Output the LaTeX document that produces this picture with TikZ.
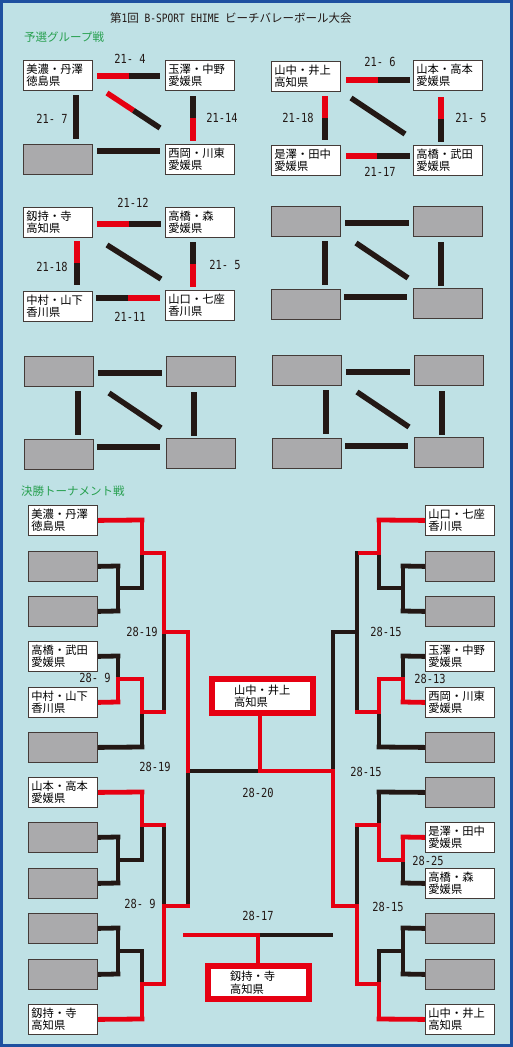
\documentclass[tikz,border=0pt]{standalone}
\usepackage{fontspec}
\newfontfamily\jp{Noto Sans CJK JP}
\newfontfamily\numfont[FakeStretch=0.83]{DejaVu Sans Mono}
\usetikzlibrary{calc}
\definecolor{rc}{RGB}{230,0,18}
\definecolor{kc}{RGB}{35,24,21}
\definecolor{gc}{RGB}{170,170,172}
\definecolor{bgc}{RGB}{191,225,229}
\definecolor{bdc}{RGB}{30,80,160}
\definecolor{grn}{RGB}{40,160,80}
\pgfdeclarelayer{bgzero}\pgfdeclarelayer{lines}\pgfsetlayers{bgzero,lines,main}
\begin{document}
\begin{tikzpicture}[x=1pt,y=-1pt,
 team/.style={draw=kc!85, line width=0.8pt, fill=white, minimum width=69pt, minimum height=30pt, anchor=north west, inner sep=0pt, text width=63pt, align=left, font=\jp\fontsize{11.3}{12.5}\selectfont},
 nobody/.style={team, fill=gc},
 gl/.style={line width=5.5pt},
 bl/.style={line width=4.8pt, line cap=rect},
 redln/.style={draw=rc},
 blkln/.style={draw=kc},
 sc/.style={font=\numfont\fontsize{12.5}{12.5}\selectfont, inner sep=0pt, text=kc},
 hdr/.style={font=\jp\fontsize{11.5}{12}\selectfont, text=grn, inner sep=0pt, anchor=west},
 bigbox/.style={draw=rc, line width=5.5pt, fill=white, minimum width=101pt, inner sep=0pt, text width=57pt, align=left, font=\jp\fontsize{11.3}{12.5}\selectfont}
]
\begin{pgfonlayer}{bgzero}
\fill[bgc] (0,0) rectangle (513,1047);
\draw[bdc, line width=3pt] (1.5,1.5) rectangle (511.5,1045.5);
\end{pgfonlayer}
\useasboundingbox (0,0) rectangle (513,1047);

% title and headers
\node[font=\jp\fontsize{11.5}{12}\selectfont, text=kc, inner sep=0pt, anchor=west] (title) at (110,18)
  {第{\numfont 1}回{\numfont\ B-SPORT EHIME\ }ビーチバレーボール大会};
\node[hdr] (h1) at (24,37) {予選グループ戦};
\node[hdr] (h2) at (21,491) {決勝トーナメント戦};

% ---------------- Group 1
\begin{scope}[shift={(23,60)}]
\node[team] (g1a) at (0,0) {美濃・丹澤\\徳島県};
\node[team] (g1b) at (142,0) {玉澤・中野\\愛媛県};
\node[nobody] (g1c) at (0,84) {};
\node[team] (g1d) at (142,84) {西岡・川東\\愛媛県};
\begin{pgfonlayer}{lines}
\draw[gl,redln] (74,16) -- (105.5,16); \draw[gl,blkln] (105.5,16) -- (137,16);
\draw[gl,blkln] (53,35) -- (53,79);
\draw[gl,blkln] (170,36) -- (170,58); \draw[gl,redln] (170,58) -- (170,81);
\draw[gl,redln] (84,33) -- (110.5,50.5); \draw[gl,blkln] (110.5,50.5) -- (137,68);
\draw[gl,blkln] (74,91) -- (137,91);
\end{pgfonlayer}
\node[sc] (s11) at (107,-1) {21- 4};
\node[sc] (s12) at (29,59) {21- 7};
\node[sc] (s13) at (199,58) {21-14};
\end{scope}

% ---------------- Group 2
\begin{scope}[shift={(271,61)}]
\node[team] (g2a) at (0,0) {山中・井上\\高知県};
\node[team] (g2b) at (142,-1) {山本・高本\\愛媛県};
\node[team] (g2c) at (0,84) {是澤・田中\\愛媛県};
\node[team] (g2d) at (142,84) {高橋・武田\\愛媛県};
\begin{pgfonlayer}{lines}
\draw[gl,redln] (75,19) -- (107,19); \draw[gl,blkln] (107,19) -- (139,19);
\draw[gl,redln] (54,35) -- (54,57); \draw[gl,blkln] (54,57) -- (54,79);
\draw[gl,redln] (170,36) -- (170,58); \draw[gl,blkln] (170,58) -- (170,81);
\draw[gl,blkln] (80,37) -- (134,73);
\draw[gl,redln] (75,95) -- (106,95); \draw[gl,blkln] (106,95) -- (139,95);
\end{pgfonlayer}
\node[sc] (s21) at (109,1) {21- 6};
\node[sc] (s22) at (27,57) {21-18};
\node[sc] (s23) at (200,57) {21- 5};
\node[sc] (s24) at (109,111) {21-17};
\end{scope}

% ---------------- Group 3
\begin{scope}[shift={(23,207)}]
\node[team] (g3a) at (0,0) {釼持・寺\\高知県};
\node[team] (g3b) at (142,0) {高橋・森\\愛媛県};
\node[team] (g3c) at (0,84) {中村・山下\\香川県};
\node[team] (g3d) at (142,83) {山口・七座\\香川県};
\begin{pgfonlayer}{lines}
\draw[gl,redln] (74,17) -- (106,17); \draw[gl,blkln] (106,17) -- (138,17);
\draw[gl,redln] (54,34) -- (54,56); \draw[gl,blkln] (54,56) -- (54,78);
\draw[gl,blkln] (170,35) -- (170,57); \draw[gl,redln] (170,57) -- (170,80);
\draw[gl,blkln] (84,38) -- (138,72);
\draw[gl,blkln] (73,91) -- (105,91); \draw[gl,redln] (105,91) -- (137,91);
\end{pgfonlayer}
\node[sc] (s31) at (110,-4) {21-12};
\node[sc] (s32) at (29,60) {21-18};
\node[sc] (s33) at (202,58) {21- 5};
\node[sc] (s34) at (107,110) {21-11};
\end{scope}

% ---------------- Groups 4-6 (empty)
\foreach \gx/\gy/\gn in {271/206/4, 24/356/5, 272/355/6}{
\begin{scope}[shift={(\gx,\gy)}]
\node[nobody] (g\gn a) at (0,0) {};
\node[nobody] (g\gn b) at (142,0) {};
\node[nobody] (g\gn c) at (0,83) {};
\node[nobody] (g\gn d) at (142,82) {};
\begin{pgfonlayer}{lines}
\draw[gl,blkln] (74,17) -- (138,17);
\draw[gl,blkln] (54,35) -- (54,79);
\draw[gl,blkln] (170,36) -- (170,80);
\draw[gl,blkln] (85,37) -- (137,72);
\draw[gl,blkln] (73,91) -- (136,91);
\end{pgfonlayer}
\end{scope}}

% ---------------- Tournament boxes
\node[team] (L1) at (28,505) {美濃・丹澤\\徳島県};
\node[nobody] (L2) at (28,551) {};
\node[nobody] (L3) at (28,596) {};
\node[team] (L4) at (28,641) {高橋・武田\\愛媛県};
\node[team] (L5) at (28,687) {中村・山下\\香川県};
\node[nobody] (L6) at (28,732) {};
\node[team] (L7) at (28,777) {山本・高本\\愛媛県};
\node[nobody] (L8) at (28,822) {};
\node[nobody] (L9) at (28,868) {};
\node[nobody] (L10) at (28,913) {};
\node[nobody] (L11) at (28,959) {};
\node[team] (L12) at (28,1004) {釼持・寺\\高知県};

\node[team] (R1) at (425,505) {山口・七座\\香川県};
\node[nobody] (R2) at (425,551) {};
\node[nobody] (R3) at (425,596) {};
\node[team] (R4) at (425,641) {玉澤・中野\\愛媛県};
\node[team] (R5) at (425,687) {西岡・川東\\愛媛県};
\node[nobody] (R6) at (425,732) {};
\node[nobody] (R7) at (425,777) {};
\node[team] (R8) at (425,822) {是澤・田中\\愛媛県};
\node[team] (R9) at (425,868) {高橋・森\\愛媛県};
\node[nobody] (R10) at (425,913) {};
\node[nobody] (R11) at (425,959) {};
\node[team] (R12) at (425,1004) {山中・井上\\高知県};

\node[bigbox, minimum height=34pt] (champ) at (262.5,696) {山中・井上\\高知県};
\node[bigbox, minimum height=33pt] (third) at (258.5,982.5) {釼持・寺\\高知県};

\coordinate (fmid) at (260,771);
\coordinate (tmid) at (258,935);

% ---------------- Bracket lines
\begin{pgfonlayer}{lines}
% black segments first
\draw[bl,blkln] (L2.east) -- (118,566);  \draw[bl,blkln] (L3.east) -- (118,611);
\draw[bl,blkln] (118,566) -- (118,611);  \draw[bl,blkln] (118,588) -- (142,588);
\draw[bl,blkln] (142,553) -- (142,588);
\draw[bl,blkln] (L4.east) -- (118,656);  \draw[bl,blkln] (118,656) -- (118,679);
\draw[bl,blkln] (L6.east) -- (142,747);  \draw[bl,blkln] (142,712) -- (142,747);
\draw[bl,blkln] (164,632) -- (164,712);
\draw[bl,blkln] (L8.east) -- (118,837);  \draw[bl,blkln] (L9.east) -- (118,883);
\draw[bl,blkln] (118,837) -- (118,883);  \draw[bl,blkln] (118,860) -- (142,860);
\draw[bl,blkln] (142,825) -- (142,860);
\draw[bl,blkln] (L10.east) -- (118,928); \draw[bl,blkln] (L11.east) -- (118,974);
\draw[bl,blkln] (118,928) -- (118,974);  \draw[bl,blkln] (118,951) -- (142,951);
\draw[bl,blkln] (142,951) -- (142,984);
\draw[bl,blkln] (164,825) -- (164,906);
\draw[bl,blkln] (188,771) -- (188,906);  \draw[bl,blkln] (188,771) -- (fmid);
\draw[bl,blkln] (333,633) -- (333,771);
\draw[bl,blkln] (R2.west) -- (403,566);  \draw[bl,blkln] (R3.west) -- (403,611);
\draw[bl,blkln] (403,566) -- (403,611);  \draw[bl,blkln] (403,588) -- (379,588);
\draw[bl,blkln] (379,553) -- (379,588);
\draw[bl,blkln] (R4.west) -- (403,656);  \draw[bl,blkln] (403,656) -- (403,679);
\draw[bl,blkln] (R6.west) -- (379,747);  \draw[bl,blkln] (379,712) -- (379,747);
\draw[bl,blkln] (357,553) -- (357,712);  \draw[bl,blkln] (357,632) -- (333,632);
\draw[bl,blkln] (R7.west) -- (379,792);  \draw[bl,blkln] (379,792) -- (379,825);
\draw[bl,blkln] (R9.west) -- (403,883);  \draw[bl,blkln] (403,860) -- (403,883);
\draw[bl,blkln] (R10.west) -- (403,928); \draw[bl,blkln] (R11.west) -- (403,974);
\draw[bl,blkln] (403,928) -- (403,974);  \draw[bl,blkln] (403,951) -- (379,951);
\draw[bl,blkln] (379,951) -- (379,984);
\draw[bl,blkln] (357,825) -- (357,906);
\draw[bl,blkln] (tmid) -- (331,935);
% red segments
\draw[bl,redln] (L1.east) -- (142,520);  \draw[bl,redln] (142,520) -- (142,553);
\draw[bl,redln] (142,553) -- (164,553);
\draw[bl,redln] (L5.east) -- (118,702);  \draw[bl,redln] (118,679) -- (118,702);
\draw[bl,redln] (118,679) -- (142,679);  \draw[bl,redln] (142,679) -- (142,712);
\draw[bl,redln] (142,712) -- (164,712);
\draw[bl,redln] (164,553) -- (164,632);  \draw[bl,redln] (164,632) -- (188,632);
\draw[bl,redln] (188,632) -- (188,771);
\draw[bl,redln] (L7.east) -- (142,792);  \draw[bl,redln] (142,792) -- (142,825);
\draw[bl,redln] (142,825) -- (164,825);
\draw[bl,redln] (L12.east) -- (142,1019); \draw[bl,redln] (142,984) -- (142,1019);
\draw[bl,redln] (142,984) -- (164,984);
\draw[bl,redln] (164,906) -- (164,984);  \draw[bl,redln] (164,906) -- (188,906);
\draw[bl,redln] (fmid) -- (333,771);  \draw[bl,redln] (fmid |- champ.south) -- (fmid);
\draw[bl,redln] (333,771) -- (333,906);
\draw[bl,redln] (R1.west) -- (379,520);  \draw[bl,redln] (379,520) -- (379,553);
\draw[bl,redln] (379,553) -- (360,553);
\draw[bl,redln] (R5.west) -- (403,702);  \draw[bl,redln] (403,679) -- (403,702);
\draw[bl,redln] (403,679) -- (379,679);  \draw[bl,redln] (379,679) -- (379,712);
\draw[bl,redln] (379,712) -- (357,712);
\draw[bl,redln] (379,825) -- (379,860);  \draw[bl,redln] (379,825) -- (357,825);
\draw[bl,redln] (R8.west) -- (403,837);  \draw[bl,redln] (403,837) -- (403,860);
\draw[bl,redln] (403,860) -- (379,860);
\draw[bl,redln] (R12.west) -- (379,1019); \draw[bl,redln] (379,984) -- (379,1019);
\draw[bl,redln] (379,984) -- (357,984);
\draw[bl,redln] (357,906) -- (357,984);  \draw[bl,redln] (357,906) -- (333,906);
\draw[bl,redln] (185,935) -- (tmid);  \draw[bl,redln] (tmid) -- (tmid |- third.north);
\end{pgfonlayer}

% ---------------- Tournament scores
\node[sc] (t1) at (95,678) {28- 9};
\node[sc] (t2) at (142,632) {28-19};
\node[sc] (t3) at (155,767) {28-19};
\node[sc] (t4) at (140,904) {28- 9};
\node[sc] (t5) at (258,793) {28-20};
\node[sc] (t6) at (258,916) {28-17};
\node[sc] (t7) at (386,632) {28-15};
\node[sc] (t8) at (430,679) {28-13};
\node[sc] (t9) at (366,772) {28-15};
\node[sc] (t10) at (428,861) {28-25};
\node[sc] (t11) at (388,907) {28-15};
\end{tikzpicture}
\end{document}
